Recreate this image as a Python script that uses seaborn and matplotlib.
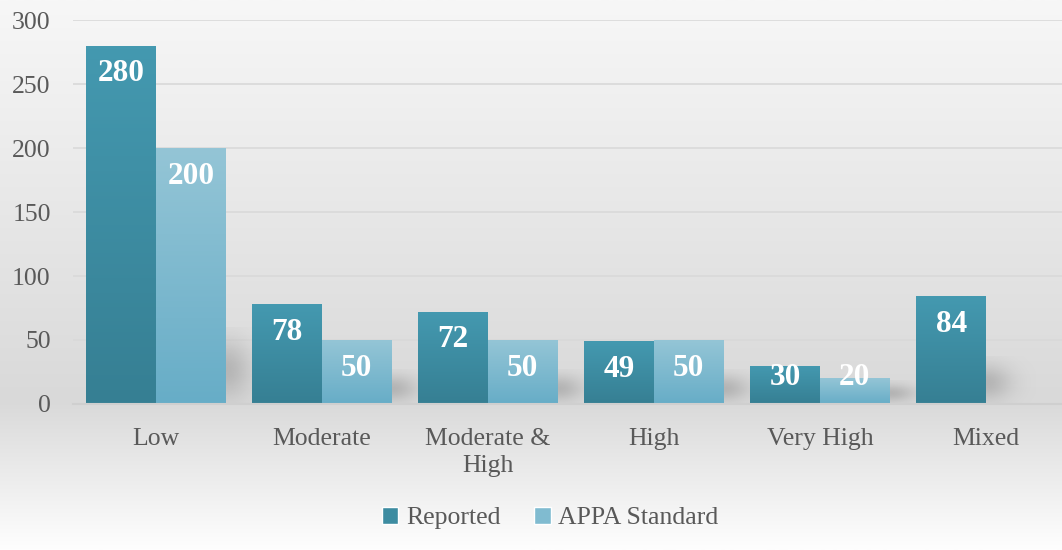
import numpy as np
import pandas as pd
import matplotlib.pyplot as plt
import seaborn as sns
from matplotlib.colors import LinearSegmentedColormap
from matplotlib.patches import Patch

# Data
categories = ['Low', 'Moderate', 'Moderate &\nHigh', 'High', 'Very High', 'Mixed']
series = ['Reported', 'APPA Standard']
reported = [280, 78, 72, 49, 30, 84]
appa_standard = [200, 50, 50, 50, 20, np.nan]

df = pd.DataFrame({
    'Category': categories * 2,
    'Series': [series[0]] * len(categories) + [series[1]] * len(categories),
    'Value': reported + appa_standard,
})

sns.set_theme(style='white')
plt.rcParams['font.family'] = ['Liberation Serif', 'DejaVu Serif']

fig = plt.figure(figsize=(10.62, 5.5), dpi=100)

# grey background gradient behind everything
bg = fig.add_axes([0, 0, 1, 1], zorder=-10)
bg_cmap = LinearSegmentedColormap.from_list(
    'bg', [(0, '#fefefe'), (0.27, '#d9d9d9'), (1, '#f7f7f7')])
bg.imshow(np.linspace(0, 1, 256).reshape(-1, 1), aspect='auto', cmap=bg_cmap,
          origin='lower', extent=[0, 1, 0, 1])
bg.axis('off')

# axes runs a little past the right edge of the picture
ax = fig.add_axes([73 / 1062, 0.2655, 996 / 1062, 0.698])
ax.patch.set_alpha(0)

sns.barplot(data=df, x='Category', y='Value', hue='Series', hue_order=series,
            palette=['#3d8ca1', '#80bbd0'], width=0.84, gap=0,
            errorbar=None, legend=False, ax=ax)

# vertical gradient inside every bar (top colour, bottom colour)
grads = [('#4499b0', '#367f93'), ('#94c5d6', '#67adc7')]
right_edges = {}
for container, (c_top, c_bot) in zip(ax.containers, grads):
    cmap = LinearSegmentedColormap.from_list('g', [c_bot, c_top])
    for bar in container:
        h = bar.get_height()
        if not np.isfinite(h) or h == 0:
            continue
        x0, w = bar.get_x(), bar.get_width()
        im = ax.imshow(np.linspace(0, 1, 100).reshape(-1, 1), cmap=cmap,
                       origin='lower', aspect='auto',
                       extent=[x0, x0 + w, 0, h], zorder=2)
        im.set_clip_path(bar)
        bar.set_facecolor('none')
        bar.set_edgecolor('none')
        ax.text(x0 + w / 2, max(h - 22, 20.5), f'{h:.0f}', ha='center',
                va='center', color='white', fontweight='bold', fontsize=22.5,
                zorder=3)
        grp = int(round(x0 + w / 2))
        if x0 + w > right_edges.get(grp, (-9, 0))[0]:
            right_edges[grp] = (x0 + w, h)

# soft shadow to the right of each group
X, Y = np.meshgrid(np.linspace(0, 1, 60), np.linspace(0, 1, 60))
for xr, h in right_edges.values():
    sh = min(0.3 * h + 12, 60)
    alpha = 0.32 * np.exp(-(X / 0.5) ** 2) * np.exp(-((Y - 0.45) / 0.38) ** 2)
    rgba = np.zeros(X.shape + (4,))
    rgba[..., :3] = 0.4
    rgba[..., 3] = alpha
    ax.imshow(rgba, origin='lower', aspect='auto',
              extent=[xr, xr + 0.3, 0, sh], zorder=1.5)

ax.set_xlim(-0.5, 5.5)
ax.set_ylim(0, 300)
ax.set_yticks(range(0, 301, 50))
ax.set_xlabel('')
ax.set_ylabel('')
ax.yaxis.grid(True, color='#d9d9d9', lw=1.2)
ax.set_axisbelow(True)
for s in ['top', 'right', 'left']:
    ax.spines[s].set_visible(False)
ax.spines['bottom'].set_color('#cfcfcf')
ax.spines['bottom'].set_linewidth(1.5)
ax.tick_params(axis='y', length=0, pad=16, labelsize=18.5, labelcolor='#595959')
ax.tick_params(axis='x', length=0, pad=17, labelsize=18.5, labelcolor='#595959')
for t in ax.get_xticklabels():
    t.set_linespacing(1.3)

handles = [Patch(facecolor='#3d8ca1'), Patch(facecolor='#80bbd0')]
fig.legend(handles, series, loc='center', bbox_to_anchor=(550 / 1062, 1 - 518 / 550),
           ncol=2, frameon=False, fontsize=18.5, handlelength=0.65,
           handleheight=0.65, handletextpad=0.3, columnspacing=1.3,
           labelcolor='#595959')

fig.savefig('out.png', dpi=100)
